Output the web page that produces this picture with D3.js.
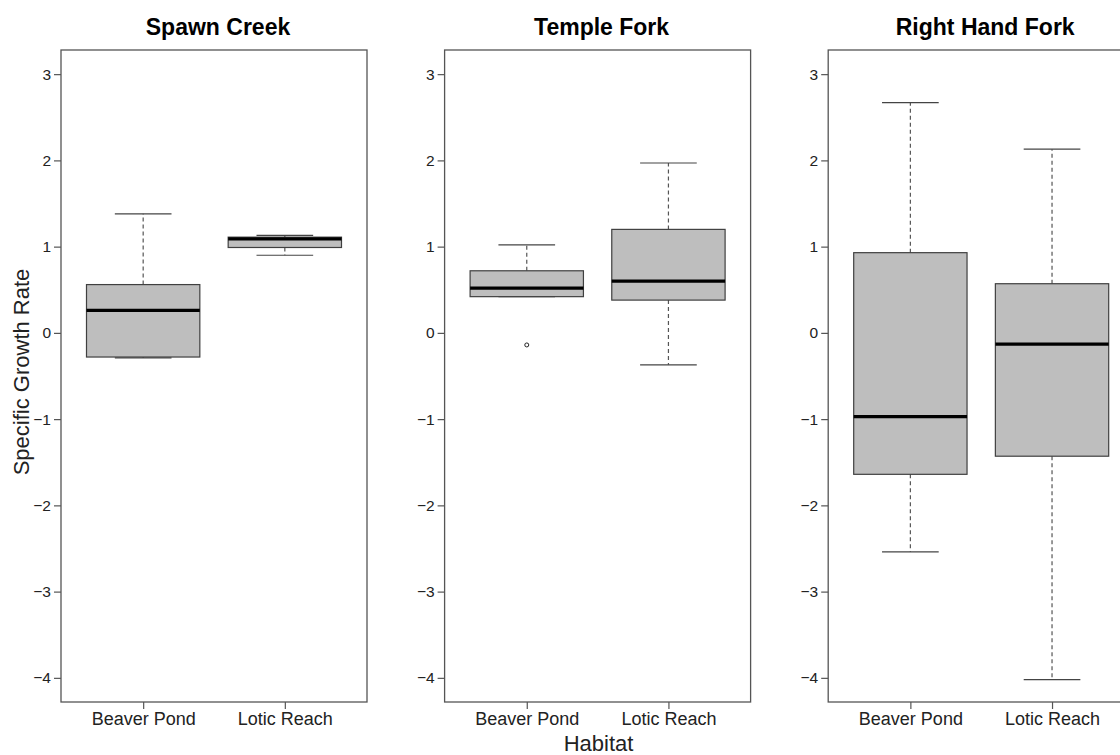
<!doctype html>
<html>
    <head>
        <meta charset="utf-8">
        <style>
            body {margin:0; background:#fff;}
            svg {display:block; font-family:"Liberation Sans", Arial, sans-serif;}
            .frame {fill:none; stroke:#555; stroke-width:1.3;}
            .axis path {display:none;}
            .axis line {stroke:#555; stroke-width:1.2;}
            .axis text {fill:#222;}
            .box {fill:#bebebe; stroke:#404040; stroke-width:1.2;}
            .median {stroke:#000; stroke-width:3.2;}
            .whisker {stroke:#555; stroke-width:1.2; stroke-dasharray:4,3;}
            .cap {stroke:#444; stroke-width:1.2;}
            .outlier {fill:none; stroke:#222; stroke-width:1;}
        </style>
        <script src="https://d3js.org/d3.v7.min.js"></script>
    </head>
    <body>
        <script>
            // sites (one panel each) and habitats (one box each)
            var sites = ["Spawn Creek", "Temple Fork", "Right Hand Fork"];
            var habitats = ["Beaver Pond", "Lotic Reach"];

            // [lower whisker, Q1, median, Q3, upper whisker] per site
            var beaverPond = [
                [-0.29, -0.28, 0.26, 0.56, 1.38],
                [0.42, 0.42, 0.52, 0.72, 1.02],
                [-2.54, -1.64, -0.97, 0.93, 2.67]
            ];
            var loticReach = [
                [0.90, 0.99, 1.09, 1.11, 1.13],
                [-0.37, 0.38, 0.60, 1.20, 1.97],
                [-4.02, -1.43, -0.13, 0.57, 2.13]
            ];
            var beaverPondOutliers = [[], [-0.14], []];
            var loticReachOutliers = [[], [], []];

            var yTicks = [-4, -3, -2, -1, 0, 1, 2, 3];

            //globals
            var W = 1120, H = 755;
            var panelLeft = 61, panelStep = 383.6, panelWidth = 306;
            var plotTop = 50, plotBottom = 702;

            var svg = d3.select("body").append("svg")
                .attr("width", W).attr("height", H);

            var y = d3.scaleLinear().domain([-4.28, 3.28]).range([plotBottom, plotTop]);
            var x = d3.scaleLinear().domain([0.42, 2.58]).range([0, panelWidth]);
            var boxHalf = x(1.4) - x(1);    // boxwex 0.8
            var capHalf = x(1.2) - x(1);    // staple 0.4

            sites.forEach(function(site, s){
                var g = svg.append("g")
                    .attr("transform", "translate(" + (panelLeft + s * panelStep) + ",0)");

                //title
                g.append("text")
                    .attr("x", panelWidth / 2 + 4)
                    .attr("y", 35)
                    .attr("text-anchor", "middle")
                    .style("font-size", "23px")
                    .style("font-weight", "bold")
                    .text(site);

                //axes
                g.append("g").attr("class", "axis")
                    .call(d3.axisLeft(y).tickValues(yTicks).tickSize(7).tickPadding(3))
                    .selectAll("text").style("font-size", "15.5px");

                g.append("g").attr("class", "axis")
                    .attr("transform", "translate(0," + plotBottom + ")")
                    .call(d3.axisBottom(x).tickValues([1, 2]).tickSize(7).tickPadding(3)
                        .tickFormat(function(d){ return habitats[d - 1]; }))
                    .selectAll("text").style("font-size", "18px");

                var stats = [beaverPond[s], loticReach[s]];
                var outs = [beaverPondOutliers[s], loticReachOutliers[s]];

                stats.forEach(function(d, i){
                    var cx = x(i + 1);
                    var b = g.append("g");
                    //whiskers
                    b.append("line").attr("class", "whisker")
                        .attr("x1", cx).attr("x2", cx)
                        .attr("y1", y(d[3])).attr("y2", y(d[4]));
                    b.append("line").attr("class", "whisker")
                        .attr("x1", cx).attr("x2", cx)
                        .attr("y1", y(d[1])).attr("y2", y(d[0]));
                    //caps
                    [d[0], d[4]].forEach(function(v){
                        b.append("line").attr("class", "cap")
                            .attr("x1", cx - capHalf).attr("x2", cx + capHalf)
                            .attr("y1", y(v)).attr("y2", y(v));
                    });
                    //box
                    b.append("rect").attr("class", "box")
                        .attr("x", cx - boxHalf)
                        .attr("width", 2 * boxHalf)
                        .attr("y", y(d[3]))
                        .attr("height", y(d[1]) - y(d[3]));
                    //median
                    b.append("line").attr("class", "median")
                        .attr("x1", cx - boxHalf).attr("x2", cx + boxHalf)
                        .attr("y1", y(d[2])).attr("y2", y(d[2]));
                    //outliers
                    outs[i].forEach(function(v){
                        b.append("circle").attr("class", "outlier")
                            .attr("cx", cx).attr("cy", y(v)).attr("r", 2);
                    });
                });

                //frame
                g.append("rect").attr("class", "frame")
                    .attr("x", 0).attr("y", plotTop)
                    .attr("width", panelWidth).attr("height", plotBottom - plotTop);
            });

            //axis titles
            svg.append("text")
                .attr("transform", "translate(29," + ((plotTop + plotBottom) / 2 - 4) + ") rotate(-90)")
                .attr("text-anchor", "middle")
                .style("font-size", "22px")
                .style("fill", "#222")
                .text("Specific Growth Rate");

            svg.append("text")
                .attr("x", panelLeft + panelStep + panelWidth / 2 + 1)
                .attr("y", 751)
                .attr("text-anchor", "middle")
                .style("font-size", "22px")
                .style("fill", "#222")
                .text("Habitat");
        </script>
    </body>
</html>
